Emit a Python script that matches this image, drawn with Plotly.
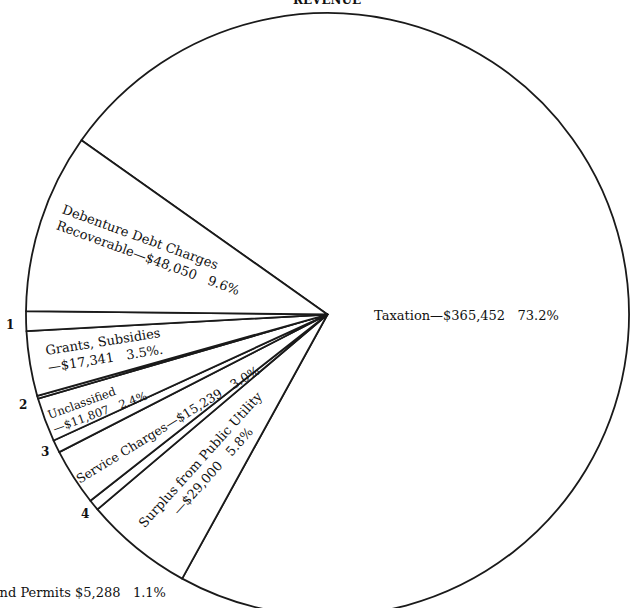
import plotly.graph_objects as go

FIG_W, FIG_H = 630, 620

# Revenue items in clockwise order, starting with the taxation wedge
categories = [
    "Taxation",
    "Surplus from Public Utility",
    "4",
    "Service Charges",
    "3",
    "Unclassified",
    "2",
    "Grants, Subsidies",
    "Licenses and Permits",
    "Debenture Debt Charges Recoverable",
]
amounts = [365452, 29000, 2947, 15239, 3385, 11807, 742, 17341, 5288, 48050]
percents = ["73.2", "5.8", "", "3.0", "", "2.4", "", "3.5", "1.1", "9.6"]

GAP = "\u00a0\u00a0\u00a0"
INK = "#111111"


def money(v):
    return f"${v:,}"


def item(name):
    i = categories.index(name)
    return money(amounts[i]), percents[i]


def px(x, y):
    """Pixel position on the page -> paper coordinates."""
    return x / FIG_W, 1 - y / FIG_H


fig = go.Figure(
    go.Pie(
        labels=categories,
        values=amounts,
        sort=False,
        direction="clockwise",
        rotation=-54.7,
        textinfo="none",
        hoverinfo="skip",
        marker=dict(
            colors=["white"] * len(categories),
            line=dict(color="#1a1a1a", width=1.8),
        ),
        domain=dict(x=[26 / FIG_W, 629 / FIG_W], y=[1 - 616 / FIG_H, 1 - 13 / FIG_H]),
        showlegend=False,
    )
)

tax_amt, tax_pct = item("Taxation")
deb_amt, deb_pct = item("Debenture Debt Charges Recoverable")
gr_amt, gr_pct = item("Grants, Subsidies")
un_amt, un_pct = item("Unclassified")
sv_amt, sv_pct = item("Service Charges")
su_amt, su_pct = item("Surplus from Public Utility")
li_amt, li_pct = item("Licenses and Permits")

# (text, centre x, centre y, angle, align, size)
wedge_labels = [
    (f"Taxation—{tax_amt}{GAP}{tax_pct}%", 466, 315, 0, "left", 13),
    (f"Debenture Debt Charges<br>Recoverable—{deb_amt}{GAP}{deb_pct}%", 151, 250, 20, "left", 13),
    (f"Grants, Subsidies<br>—{gr_amt}{GAP}{gr_pct}%.", 104, 350, -9, "center", 13),
    (f"Unclassified<br>—{un_amt}{GAP}{un_pct}%", 97, 406, -20, "left", 11.5),
    (f"Service Charges—{sv_amt}{GAP}{sv_pct}%", 168, 425, -31.5, "left", 12.5),
    (f"Surplus from Public Utility<br>—{su_amt}{GAP}{su_pct}%", 207, 465, -48, "center", 13),
]

annotations = []
for text, x, y, ang, align, size in wedge_labels:
    ax, ay = px(x, y)
    annotations.append(dict(
        text=text, x=ax, y=ay, xref="paper", yref="paper",
        xanchor="center", yanchor="middle", textangle=ang, align=align,
        showarrow=False,
        font=dict(family="DejaVu Serif", size=size, color=INK),
    ))

# Numbered small wedges
for num, x, y in [("1", 10, 325), ("2", 23, 405), ("3", 45, 452), ("4", 85, 514)]:
    ax, ay = px(x, y)
    annotations.append(dict(
        text=f"<b>{num}</b>", x=ax, y=ay, xref="paper", yref="paper",
        xanchor="center", yanchor="middle", showarrow=False,
        font=dict(family="DejaVu Serif", size=12, color=INK),
    ))

# Footnote for wedge 1
ax, ay = px(168, 592)
annotations.append(dict(
    text=f"1. Licenses and Permits {li_amt}{GAP}{li_pct}%", x=ax, y=ay,
    xref="paper", yref="paper", xanchor="right", yanchor="middle",
    showarrow=False,
    font=dict(family="DejaVu Serif", size=13, color=INK),
))

# Chart heading
ax, ay = px(327, 9)
annotations.append(dict(
    text="<b>REVENUE</b>", x=ax, y=ay, xref="paper", yref="paper",
    xanchor="center", yanchor="bottom", showarrow=False,
    font=dict(family="DejaVu Serif", size=12, color=INK),
))

fig.update_layout(
    width=FIG_W,
    height=FIG_H,
    margin=dict(l=0, r=0, t=0, b=0),
    paper_bgcolor="white",
    plot_bgcolor="white",
    annotations=annotations,
)

fig.write_html("out.html")
